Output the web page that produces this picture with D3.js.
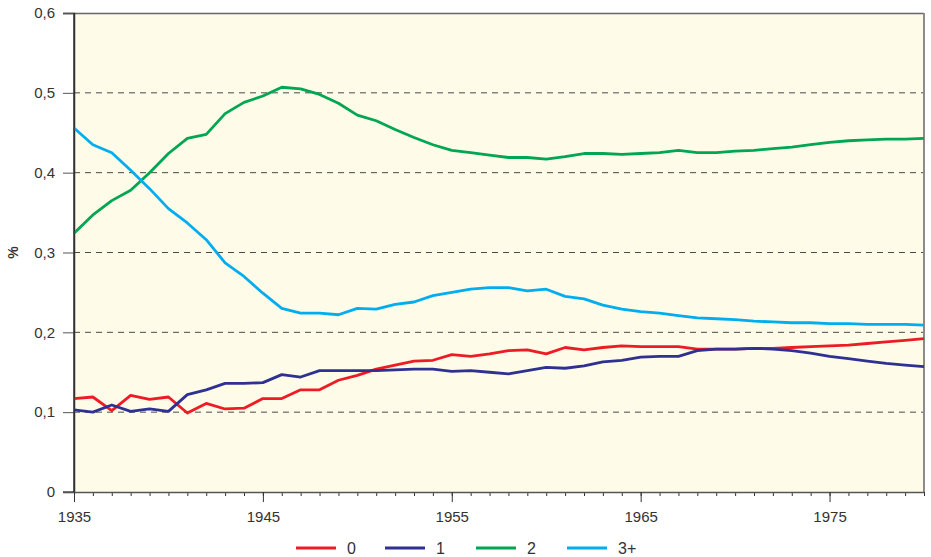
<!DOCTYPE html>
<meta charset="utf-8">
<script src="https://d3js.org/d3.v7.min.js"></script>
<style>
  body { margin: 0; background: #fff; }
  svg text { font-family: "Liberation Sans", Arial, sans-serif; fill: #333; }
</style>
<div id="my_dataviz"></div>
<script>

  // years 1935..1980
  var years = d3.range(1935, 1981);

  var series0 = [0.117, 0.119, 0.102, 0.121, 0.116, 0.119, 0.099, 0.111, 0.104, 0.105,
    0.117, 0.117, 0.128, 0.128, 0.140, 0.146, 0.154, 0.159, 0.164, 0.165,
    0.172, 0.170, 0.173, 0.177, 0.178, 0.173, 0.181, 0.178, 0.181, 0.183,
    0.182, 0.182, 0.182, 0.179, 0.179, 0.179, 0.180, 0.180, 0.181, 0.182,
    0.183, 0.184, 0.186, 0.188, 0.190, 0.192];

  var series1 = [0.103, 0.100, 0.109, 0.101, 0.104, 0.101, 0.122, 0.128, 0.136, 0.136,
    0.137, 0.147, 0.144, 0.152, 0.152, 0.152, 0.152, 0.153, 0.154, 0.154,
    0.151, 0.152, 0.150, 0.148, 0.152, 0.156, 0.155, 0.158, 0.163, 0.165,
    0.169, 0.170, 0.170, 0.177, 0.179, 0.179, 0.180, 0.179, 0.177, 0.174,
    0.170, 0.167, 0.164, 0.161, 0.159, 0.157];

  var series2 = [0.324, 0.347, 0.365, 0.378, 0.400, 0.424, 0.443, 0.448, 0.474, 0.488,
    0.496, 0.507, 0.505, 0.498, 0.487, 0.472, 0.465, 0.454, 0.444, 0.435,
    0.428, 0.425, 0.422, 0.419, 0.419, 0.417, 0.420, 0.424, 0.424, 0.423,
    0.424, 0.425, 0.428, 0.425, 0.425, 0.427, 0.428, 0.430, 0.432, 0.435,
    0.438, 0.440, 0.441, 0.442, 0.442, 0.443];

  var series3 = [0.456, 0.435, 0.425, 0.403, 0.380, 0.355, 0.337, 0.316, 0.287, 0.270,
    0.249, 0.230, 0.224, 0.224, 0.222, 0.230, 0.229, 0.235, 0.238, 0.246,
    0.250, 0.254, 0.256, 0.256, 0.252, 0.254, 0.245, 0.242, 0.234, 0.229,
    0.226, 0.224, 0.221, 0.218, 0.217, 0.216, 0.214, 0.213, 0.212, 0.212,
    0.211, 0.211, 0.210, 0.210, 0.210, 0.209];

  var seriesNames = ["0", "1", "2", "3+"];
  var seriesColors = ["#ed1c24", "#2e3192", "#00a651", "#00aeef"];
  var yTicks = [0, 0.1, 0.2, 0.3, 0.4, 0.5, 0.6];
  var xTickYears = [1935, 1945, 1955, 1965, 1975];

  var allSeries = [series0, series1, series2, series3];

  var margin = { top: 13, right: 7, bottom: 65, left: 74 },
    width = 931 - margin.left - margin.right,
    height = 557 - margin.top - margin.bottom;

  var svg = d3.select("#my_dataviz")
    .append("svg")
    .attr("width", 931)
    .attr("height", 557)
    .append("g")
    .attr("transform", "translate(" + margin.left + "," + margin.top + ")");

  var x = d3.scaleLinear().domain([1935, 1980]).range([0, width]);
  var y = d3.scaleLinear().domain([0, 0.6]).range([height, 0]);

  // plot background
  svg.append("rect")
    .attr("width", width)
    .attr("height", height)
    .attr("fill", "#fefbe9");

  // dashed gridlines
  svg.append("g")
    .selectAll("line")
    .data(yTicks.filter(function (d) { return d > 0 && d < 0.6; }))
    .enter()
    .append("line")
    .attr("x1", 0)
    .attr("x2", width)
    .attr("y1", function (d) { return y(d); })
    .attr("y2", function (d) { return y(d); })
    .attr("stroke", "#4a4a4a")
    .attr("stroke-width", 1)
    .attr("stroke-dasharray", "6,5");

  // top and right border
  svg.append("line")
    .attr("x1", -11).attr("x2", width)
    .attr("y1", 0.5).attr("y2", 0.5)
    .attr("stroke", "#666").attr("stroke-width", 1.5);
  svg.append("line")
    .attr("x1", width).attr("x2", width)
    .attr("y1", 0).attr("y2", height)
    .attr("stroke", "#8c8c8c").attr("stroke-width", 2);

  // y axis
  var yAxis = svg.append("g")
    .call(d3.axisLeft(y)
      .tickValues(yTicks)
      .tickSize(11)
      .tickPadding(8)
      .tickFormat(function (d) { return d === 0 ? "0" : d3.format(".1f")(d).replace(".", ","); }));
  yAxis.select(".domain").attr("stroke", "#333").attr("stroke-width", 1.5);
  yAxis.selectAll(".tick line").attr("stroke", "#555");
  yAxis.selectAll("text").style("font-size", "15px").attr("fill", "#333");

  // x axis: minor ticks for each year, major every ten
  var xAxisMinor = svg.append("g")
    .attr("transform", "translate(0," + height + ")")
    .call(d3.axisBottom(x).tickValues(years).tickSize(4).tickFormat(""));
  xAxisMinor.select(".domain").remove();
  xAxisMinor.selectAll(".tick line").attr("stroke", "#333");

  var xAxis = svg.append("g")
    .attr("transform", "translate(0," + height + ")")
    .call(d3.axisBottom(x)
      .tickValues(xTickYears)
      .tickSize(10)
      .tickSizeOuter(0)
      .tickPadding(9)
      .tickFormat(d3.format("d")));
  xAxis.select(".domain").attr("stroke", "#555").attr("stroke-width", 1.5);
  xAxis.selectAll(".tick line").attr("stroke", "#333");
  xAxis.selectAll("text").style("font-size", "15px").attr("fill", "#333");

  // extend x axis line left past the y axis
  svg.append("line")
    .attr("x1", -11).attr("x2", 0)
    .attr("y1", height).attr("y2", height)
    .attr("stroke", "#555").attr("stroke-width", 1.5);

  // y label
  svg.append("text")
    .attr("transform", "translate(" + (-56) + "," + y(0.3) + ") rotate(-90)")
    .attr("text-anchor", "middle")
    .style("font-size", "14px")
    .style("font-weight", "bold")
    .text("%");

  // lines
  var line = d3.line()
    .x(function (d, i) { return x(years[i]); })
    .y(function (d) { return y(d); });

  svg.append("g")
    .selectAll("path")
    .data(allSeries)
    .enter()
    .append("path")
    .attr("d", line)
    .attr("fill", "none")
    .attr("stroke", function (d, i) { return seriesColors[i]; })
    .attr("stroke-width", 2.8)
    .attr("stroke-linejoin", "round");

  // redraw y axis line on top of plot lines
  svg.append("line")
    .attr("x1", 0).attr("x2", 0)
    .attr("y1", 0).attr("y2", height)
    .attr("stroke", "#333").attr("stroke-width", 1.5);

  // legend
  var legendX = [222, 311, 402, 493];
  var legend = svg.append("g")
    .attr("transform", "translate(0," + (height + 56) + ")");

  var items = legend.selectAll("g")
    .data(seriesNames)
    .enter()
    .append("g")
    .attr("transform", function (d, i) { return "translate(" + legendX[i] + ",0)"; });

  items.append("line")
    .attr("x1", 0).attr("x2", 40)
    .attr("y1", 0).attr("y2", 0)
    .attr("stroke", function (d, i) { return seriesColors[i]; })
    .attr("stroke-width", 3);

  items.append("text")
    .attr("x", 51)
    .attr("y", 6)
    .style("font-size", "16px")
    .text(function (d) { return d; });

</script>
